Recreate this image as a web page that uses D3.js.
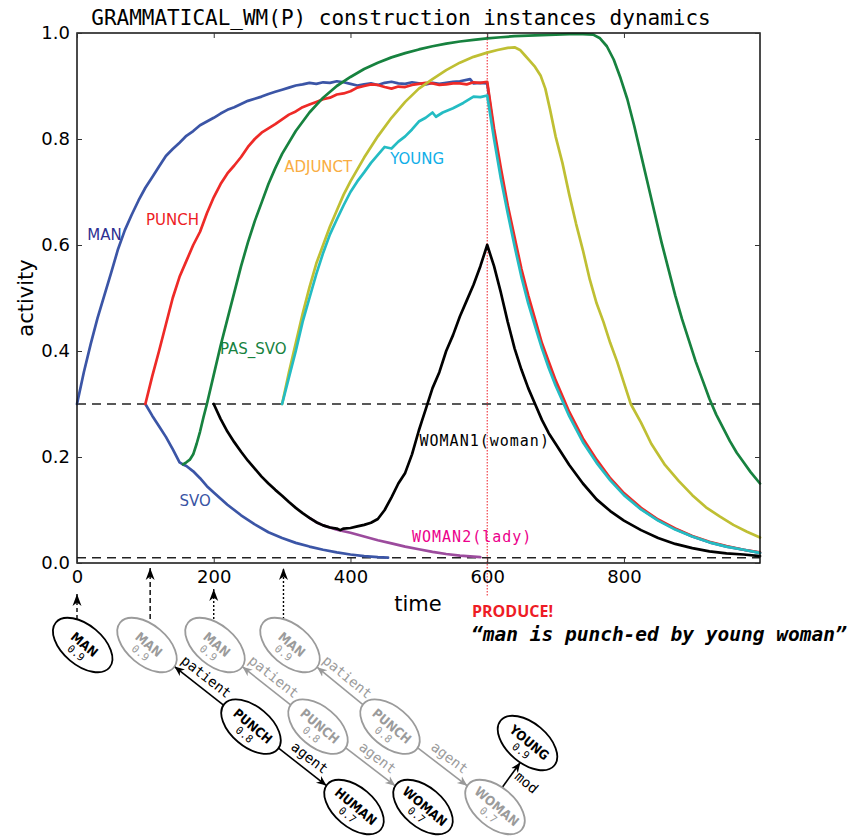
<!DOCTYPE html>
<html>
<head>
<meta charset="utf-8">
<script src="https://cdn.jsdelivr.net/npm/d3@7"></script>
<style>
  body { margin: 0; background: #fff; }
  svg { display: block; }
</style>
</head>
<body>
<svg id="canvas" width="852" height="838"></svg>
<script>
// ---------- data ----------
const xTicks = [0, 200, 400, 600, 800];
const yTicks = [0, 0.2, 0.4, 0.6, 0.8, 1.0];
const thresholds = [0.3, 0.01];
const produceTime = 600;

// [time, activity]
const MAN = [[0,.300],[10,.360],[20,.413],[30,.462],[40,.505],[50,.548],[60,.592],[70,.628],[80,.657],[90,.684],[100,.708],[110,.728],[120,.748],[130,.768],[140,.781],[150,.793],[160,.806],[170,.815],[180,.826],[190,.833],[200,.840],[210,.848],[220,.855],[230,.860],[240,.866],[250,.872],[260,.876],[270,.880],[280,.885],[290,.889],[300,.893],[310,.897],[320,.901],[330,.903],[340,.906],[350,.904],[360,.907],[370,.906],[380,.909],[390,.907],[400,.904],[410,.901],[420,.903],[430,.905],[440,.902],[450,.906],[460,.908],[470,.905],[480,.904],[490,.907],[500,.905],[510,.903],[520,.906],[530,.904],[540,.906],[550,.908],[560,.909],[575,.913],[580,.905],[590,.906],[600,.905],[610,.81],[620,.735],[630,.668],[640,.607],[650,.548],[660,.498],[670,.452],[680,.41],[690,.374],[700,.34],[720,.281],[740,.232],[760,.192],[780,.158],[800,.13],[825,.102],[850,.081],[875,.064],[900,.05],[925,.039],[950,.031],[975,.025],[999,.019]];
const SVO = [[100,.300],[110,.278],[120,.258],[130,.238],[140,.215],[150,.190],[155,.186],[160,.183],[170,.173],[180,.160],[190,.145],[200,.133],[220,.110],[240,.090],[260,.073],[280,.058],[300,.047],[320,.038],[340,.031],[360,.025],[380,.020],[400,.016],[420,.013],[440,.011],[455,.010]];
const PUNCH = [[100,.300],[110,.352],[120,.400],[130,.450],[140,.500],[150,.540],[160,.570],[170,.600],[180,.625],[190,.660],[200,.690],[210,.715],[220,.735],[230,.750],[240,.766],[250,.785],[260,.800],[270,.812],[280,.820],[290,.828],[300,.837],[310,.846],[320,.852],[330,.860],[340,.865],[350,.870],[360,.875],[370,.878],[380,.884],[390,.886],[400,.890],[410,.897],[420,.900],[430,.903],[440,.902],[450,.898],[460,.895],[470,.899],[480,.898],[490,.902],[500,.904],[510,.906],[520,.905],[530,.902],[540,.903],[550,.905],[560,.905],[570,.903],[580,.907],[590,.906],[600,.908],[610,.82],[620,.745],[630,.675],[640,.615],[650,.555],[660,.505],[670,.46],[680,.415],[690,.38],[700,.345],[720,.285],[740,.235],[760,.195],[780,.16],[800,.132],[825,.104],[850,.082],[875,.065],[900,.051],[925,.040],[950,.032],[975,.025],[999,.020]];
const PAS_SVO = [[155,.186],[160,.190],[165,.195],[170,.205],[175,.225],[180,.248],[185,.275],[190,.300],[200,.355],[210,.410],[220,.460],[230,.510],[240,.560],[250,.605],[260,.645],[270,.680],[280,.715],[290,.745],[300,.772],[320,.815],[340,.850],[360,.878],[380,.900],[400,.917],[420,.932],[440,.944],[460,.954],[480,.962],[500,.969],[520,.975],[540,.980],[560,.984],[580,.987],[600,.990],[620,.992],[640,.994],[660,.995],[680,.996],[700,.997],[720,.998],[740,.998],[755,.997],[765,.990],[775,.975],[785,.950],[795,.915],[805,.875],[815,.825],[825,.770],[835,.715],[845,.660],[855,.605],[865,.555],[875,.505],[885,.460],[895,.420],[905,.380],[915,.345],[925,.310],[935,.280],[945,.255],[955,.230],[965,.208],[975,.190],[985,.172],[999,.150]];
const ADJUNCT = [[300,.300],[310,.360],[320,.415],[330,.470],[340,.520],[350,.565],[360,.600],[370,.635],[380,.665],[390,.695],[400,.720],[420,.765],[440,.805],[460,.840],[480,.870],[500,.895],[520,.913],[540,.930],[560,.944],[580,.955],[600,.963],[615,.968],[630,.972],[640,.973],[648,.968],[655,.958],[662,.948],[670,.936],[678,.920],[685,.895],[692,.855],[700,.805],[710,.755],[720,.695],[730,.640],[740,.590],[750,.535],[760,.490],[770,.455],[780,.415],[790,.380],[800,.340],[810,.300],[825,.265],[840,.225],[860,.185],[880,.155],[900,.128],[920,.105],[940,.088],[960,.072],[980,.059],[999,.048]];
const YOUNG = [[300,.300],[310,.350],[320,.400],[330,.455],[340,.500],[350,.545],[360,.585],[370,.620],[380,.648],[390,.675],[400,.700],[410,.720],[420,.737],[430,.755],[440,.770],[450,.785],[460,.782],[470,.795],[480,.805],[490,.818],[500,.833],[510,.840],[520,.850],[525,.842],[535,.850],[550,.858],[565,.868],[580,.880],[590,.879],[600,.882],[610,.80],[620,.725],[630,.66],[640,.598],[650,.54],[660,.49],[670,.447],[680,.405],[690,.368],[700,.335],[720,.277],[740,.228],[760,.189],[780,.156],[800,.128],[825,.101],[850,.080],[875,.063],[900,.050],[925,.039],[950,.031],[975,.025],[999,.019]];
const WOMAN1 = [[200,.300],[210,.272],[220,.248],[230,.228],[240,.210],[250,.193],[260,.178],[270,.163],[280,.150],[290,.138],[300,.127],[310,.115],[320,.104],[330,.094],[340,.085],[350,.077],[360,.071],[370,.067],[380,.065],[385,.062],[390,.065],[400,.066],[410,.069],[420,.072],[430,.076],[440,.083],[450,.100],[460,.124],[470,.150],[480,.170],[490,.205],[500,.250],[505,.270],[510,.290],[520,.330],[530,.360],[540,.400],[550,.430],[560,.465],[570,.495],[580,.525],[590,.560],[600,.600],[610,.560],[620,.510],[630,.455],[640,.405],[650,.365],[660,.330],[670,.300],[680,.270],[690,.245],[700,.225],[720,.185],[740,.150],[760,.120],[780,.098],[800,.080],[825,.062],[850,.047],[875,.036],[900,.028],[925,.022],[950,.018],[975,.016],[999,.013]];
const WOMAN2 = [[340,.085],[350,.077],[360,.071],[370,.067],[380,.063],[390,.060],[400,.057],[420,.050],[440,.043],[460,.037],[480,.031],[500,.026],[520,.021],[540,.017],[560,.014],[580,.012],[590,.011]];

// draw order
const seriesNames = ["MAN", "SVO", "PUNCH", "PAS_SVO", "ADJUNCT", "WOMAN2", "WOMAN1", "YOUNG"];
const seriesData = { MAN, SVO, PUNCH, PAS_SVO, ADJUNCT, WOMAN2, WOMAN1, YOUNG };

// ---------- styles / layout ----------
const lineColor = {
  MAN: "#3b55a6", SVO: "#3b55a6", PUNCH: "#ee2a27", PAS_SVO: "#17823f",
  ADJUNCT: "#bfbf33", YOUNG: "#24bcc3", WOMAN1: "#000", WOMAN2: "#9c4b9d"
};
// label anchors in data space (left, baseline)
const seriesLabels = [
  { text: "MAN", t: 15, v: 0.609, color: "#2e3192", mono: false },
  { text: "PUNCH", t: 101, v: 0.638, color: "#ed1c24", mono: false },
  { text: "ADJUNCT", t: 303, v: 0.738, color: "#f9ad42", mono: false },
  { text: "YOUNG", t: 458, v: 0.753, color: "#10aee8", mono: false },
  { text: "PAS_SVO", t: 209, v: 0.394, color: "#17823f", mono: false },
  { text: "SVO", t: 150, v: 0.108, color: "#3953a4", mono: false },
  { text: "WOMAN1(woman)", t: 501, v: 0.221, color: "#000", mono: true },
  { text: "WOMAN2(lady)", t: 490, v: 0.040, color: "#ec008c", mono: true }
];

const W = 852, H = 838;
const M = { left: 77, right: 760, top: 33, bottom: 563 };

const svg = d3.select("#canvas");
svg.append("rect").attr("width", W).attr("height", H).attr("fill", "#fff");

const x = d3.scaleLinear().domain([0, 999]).range([M.left, M.right]);
const y = d3.scaleLinear().domain([0, 1]).range([M.bottom, M.top]);

const SANS = "DejaVu Sans, Verdana, sans-serif";
const MONO = "DejaVu Sans Mono, monospace";

// title
svg.append("text")
  .attr("x", 401).attr("y", 25)
  .attr("text-anchor", "middle")
  .style("font-family", MONO).style("font-size", "21px")
  .text("GRAMMATICAL_WM(P) construction instances dynamics");

// threshold lines
svg.append("g").selectAll("line").data(thresholds).join("line")
  .attr("x1", M.left).attr("x2", M.right)
  .attr("y1", d => y(d)).attr("y2", d => y(d))
  .attr("stroke", "#222").attr("stroke-width", 1.4)
  .attr("stroke-dasharray", "9,6");

// produce marker
svg.append("line")
  .attr("x1", x(produceTime)).attr("x2", x(produceTime))
  .attr("y1", M.top).attr("y2", 597)
  .attr("stroke", "#ee1c25").attr("stroke-width", 1)
  .attr("stroke-dasharray", "1.5,1.5");

// curves
const line = d3.line().x(d => x(d[0])).y(d => y(d[1]));
const curves = svg.append("g").attr("fill", "none")
  .attr("stroke-linejoin", "round").attr("stroke-linecap", "round");
seriesNames.forEach(name => {
  curves.append("path")
    .attr("d", line(seriesData[name]))
    .attr("stroke", lineColor[name])
    .attr("stroke-width", 2.7);
});

// frame
svg.append("rect")
  .attr("x", M.left).attr("y", M.top)
  .attr("width", M.right - M.left).attr("height", M.bottom - M.top)
  .attr("fill", "none").attr("stroke", "#111").attr("stroke-width", 1.5);

// axes
function styleAxis(g) {
  g.select(".domain").remove();
  g.selectAll(".tick line").attr("stroke", "#333");
  g.selectAll("text").style("font-family", SANS).style("font-size", "18px").attr("fill", "#000");
}
svg.append("g").attr("transform", `translate(0,${M.bottom})`)
  .call(d3.axisBottom(x).tickValues(xTicks).tickSize(-5).tickPadding(7).tickFormat(d3.format("d")))
  .call(styleAxis);
svg.append("g").attr("transform", `translate(${M.left},0)`)
  .call(d3.axisLeft(y).tickValues(yTicks).tickSize(-5).tickPadding(7).tickFormat(d3.format(".1f")))
  .call(styleAxis);
svg.append("g").attr("transform", `translate(0,${M.top})`)
  .call(d3.axisTop(x).tickValues(xTicks).tickSize(-5).tickFormat(""))
  .call(styleAxis);
svg.append("g").attr("transform", `translate(${M.right},0)`)
  .call(d3.axisRight(y).tickValues(yTicks).tickSize(-5).tickFormat(""))
  .call(styleAxis);

// axis titles
svg.append("text")
  .attr("x", 418).attr("y", 611).attr("text-anchor", "middle")
  .style("font-family", SANS).style("font-size", "21px").text("time");
svg.append("text")
  .attr("transform", "translate(33,298) rotate(-90)").attr("text-anchor", "middle")
  .style("font-family", SANS).style("font-size", "21px").text("activity");

// series labels
svg.append("g").selectAll("text").data(seriesLabels).join("text")
  .attr("x", d => x(d.t)).attr("y", d => y(d.v))
  .attr("fill", d => d.color)
  .style("font-family", d => d.mono ? MONO : SANS)
  .style("font-size", "15px")
  .style("letter-spacing", d => d.mono ? "1px" : "0px")
  .text(d => d.text);

// PRODUCE annotation
svg.append("text")
  .attr("x", 472).attr("y", 617)
  .attr("fill", "#ee1c25")
  .style("font-family", "Open Sans, Liberation Sans, sans-serif")
  .style("font-size", "16px").style("font-weight", "bold")
  .text("PRODUCE!");
svg.append("text")
  .attr("x", 471).attr("y", 641)
  .style("font-family", MONO).style("font-size", "19.5px")
  .style("font-weight", "bold").style("font-style", "italic")
  .text("\u201Cman is punch-ed by young woman\u201D");

// ---------- construction diagram ----------
const defs = svg.append("defs");
function marker(id, color, len, half) {
  defs.append("marker")
    .attr("id", id).attr("markerUnits", "userSpaceOnUse")
    .attr("viewBox", `0 ${-half - 1} ${len + 1} ${2 * half + 2}`)
    .attr("refX", len).attr("refY", 0)
    .attr("markerWidth", len + 1).attr("markerHeight", 2 * half + 2)
    .attr("orient", "auto")
    .append("path")
    .attr("d", `M0,${-half} L${len},0 L0,${half} L${len * 0.3},0 Z`)
    .attr("fill", color).attr("stroke", "none");
}
marker("arrBlack", "#000", 10, 4.2);
marker("arrGray", "#999", 10, 4.2);
marker("arrUp", "#000", 12, 4.5);

const GRAY = "#9b9b9b";
const RX = 35, RY = 20, ROT = 40;

const nodes = [
  { id: "m0", label: "MAN", val: "0.9", cx: 82.7, cy: 645, on: true },
  { id: "m1", label: "MAN", val: "0.9", cx: 147, cy: 645, on: false },
  { id: "m2", label: "MAN", val: "0.9", cx: 215, cy: 645, on: false },
  { id: "m3", label: "MAN", val: "0.9", cx: 290, cy: 645, on: false },
  { id: "p1", label: "PUNCH", val: "0.8", cx: 251, cy: 726.7, on: true },
  { id: "p2", label: "PUNCH", val: "0.8", cx: 318, cy: 726.7, on: false },
  { id: "p3", label: "PUNCH", val: "0.8", cx: 390, cy: 726.7, on: false },
  { id: "h", label: "HUMAN", val: "0.7", cx: 354, cy: 807, on: true },
  { id: "w1", label: "WOMAN", val: "0.7", cx: 423, cy: 807, on: true },
  { id: "w2", label: "WOMAN", val: "0.7", cx: 495, cy: 807, on: false },
  { id: "yg", label: "YOUNG", val: "0.9", cx: 527.5, cy: 743, on: true }
];
const byId = Object.fromEntries(nodes.map(n => [n.id, n]));

// off: distance of the label from the edge, on the upper side of the text
const edges = [
  { s: "p1", t: "m1", label: "patient", on: true, off: 11 },
  { s: "p1", t: "h", label: "agent", on: true, off: 11 },
  { s: "p2", t: "m2", label: "patient", on: false, off: 11 },
  { s: "p2", t: "w1", label: "agent", on: false, off: 11 },
  { s: "p3", t: "m3", label: "patient", on: false, off: 11 },
  { s: "p3", t: "w2", label: "agent", on: false, off: 11 },
  { s: "w2", t: "yg", label: "mod", on: true, lx: 15, ly: 8, tdx: -9 }
];

// up arrows from MAN instances to the time axis
const arrowTimes = [0, 107, 200, 302];
const arrowTops = [594, 568, 589, 568];
const arrowDash = ["4,3", "5,3", "2,2", "2,2"];

function rEll(ang) {
  const phi = ang - ROT * Math.PI / 180;
  return 1 / Math.sqrt(Math.pow(Math.cos(phi) / RX, 2) + Math.pow(Math.sin(phi) / RY, 2));
}

const dg = svg.append("g");

arrowTimes.forEach((t, i) => {
  dg.append("line")
    .attr("x1", x(t)).attr("x2", x(t))
    .attr("y1", 619).attr("y2", arrowTops[i])
    .attr("stroke", "#000").attr("stroke-width", 1.4)
    .attr("stroke-dasharray", arrowDash[i])
    .attr("marker-end", "url(#arrUp)");
});

edges.forEach(e => {
  const s = byId[e.s], t = byId[e.t];
  const tx = t.cx + (e.tdx || 0), ty = t.cy;
  const ang = Math.atan2(ty - s.cy, tx - s.cx);
  const r = rEll(ang);
  const x1 = s.cx + r * Math.cos(ang), y1 = s.cy + r * Math.sin(ang);
  const x2 = t.cx - r * Math.cos(ang), y2 = t.cy - r * Math.sin(ang);
  const col = e.on ? "#000" : GRAY;
  dg.append("line")
    .attr("x1", x1).attr("y1", y1).attr("x2", x2).attr("y2", y2)
    .attr("stroke", col).attr("stroke-width", 1.6)
    .attr("marker-end", e.on ? "url(#arrBlack)" : "url(#arrGray)");
  let deg = ang * 180 / Math.PI;
  if (deg > 90) deg -= 180;
  if (deg < -90) deg += 180;
  let mx = (x1 + x2) / 2, my = (y1 + y2) / 2;
  if (e.off) {
    const rad = deg * Math.PI / 180;
    mx += Math.sin(rad) * e.off;
    my -= Math.cos(rad) * e.off;
  } else {
    deg = 40;
    mx += e.lx; my += e.ly;
  }
  dg.append("text")
    .attr("transform", `translate(${mx},${my}) rotate(${deg})`)
    .attr("text-anchor", "middle").attr("dy", "0.3em")
    .attr("fill", col)
    .style("font-family", MONO).style("font-size", "14px")
    .text(e.label);
});

nodes.forEach(n => {
  const col = n.on ? "#000" : GRAY;
  const g = dg.append("g").attr("transform", `translate(${n.cx},${n.cy}) rotate(${ROT})`);
  g.append("ellipse").attr("rx", RX).attr("ry", RY)
    .attr("fill", "#fff").attr("stroke", col).attr("stroke-width", 1.8);
  g.append("text").attr("x", 1).attr("y", 3).attr("text-anchor", "middle")
    .attr("fill", col)
    .style("font-family", "DejaVu Sans Condensed, DejaVu Sans, sans-serif")
    .style("font-weight", "bold").style("font-size", "13px")
    .text(n.label);
  g.append("text").attr("x", 0).attr("y", 14).attr("text-anchor", "middle")
    .attr("fill", col)
    .style("font-family", MONO).style("font-size", "10.5px")
    .text(n.val);
});
</script>
</body>
</html>
